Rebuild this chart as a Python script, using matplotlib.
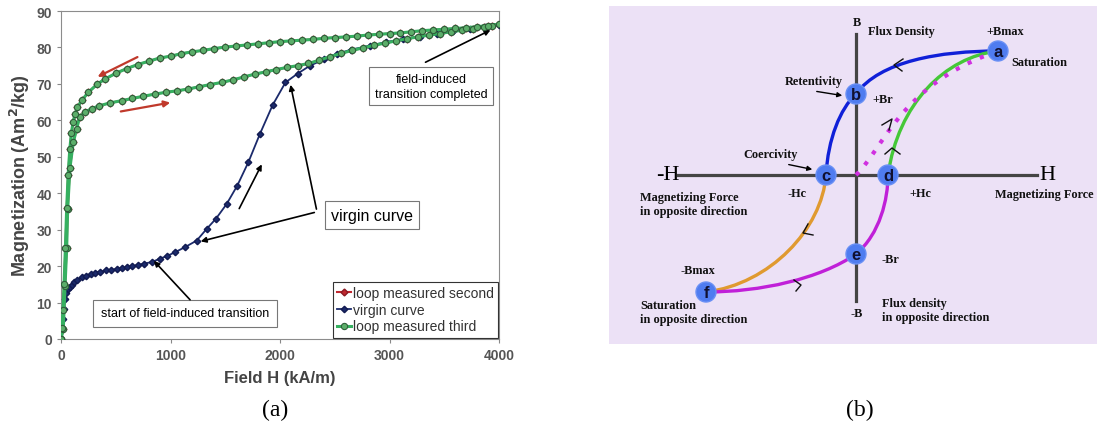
#!/usr/bin/env python3
"""
Magnetization loops (a) and hysteresis loop sketch (b).
"""

import matplotlib
matplotlib.use('Agg')
import matplotlib.pyplot as plt
from matplotlib.path import Path
from matplotlib.patches import PathPatch, Circle

# ---------------- panel (a) data: field H (kA/m) vs magnetization (Am2/kg)
virgin_h = [0, 6, 15, 25, 37, 50, 65, 80, 97, 120, 150, 189, 230, 270, 310, 360,
            410, 460, 510, 554, 600, 650, 700, 760, 828, 900, 970, 1041, 1132,
            1239, 1330, 1415, 1512, 1610, 1711, 1817, 1933, 2050, 2160, 2274,
            2400, 2518, 2650, 2822, 2970, 3126, 3280, 3431, 3580, 3735, 3870, 4000]
virgin_m = [0, 2.7, 5.5, 8.2, 11.0, 12.6, 13.7, 14.3, 14.9, 15.6, 16.2, 16.9,
            17.3, 17.8, 18.2, 18.5, 18.8, 19.0, 19.2, 19.4, 19.7, 20.0, 20.3,
            20.7, 21.1, 22.0, 22.8, 23.8, 25.2, 27.0, 30.2, 33.0, 37.0, 42.1,
            48.5, 56.3, 64.2, 70.4, 72.8, 75.0, 76.7, 78.2, 79.4, 80.5, 81.5,
            82.3, 83.0, 83.7, 84.4, 85.1, 85.6, 86.2]

# loop: ascending branch 0 -> 4000, then descending branch 4000 -> 0
loop_h = [0, 21, 37, 52, 61, 82, 112, 143, 170, 220, 280, 350, 450, 554, 650,
          750, 858, 960, 1060, 1163, 1260, 1360, 1467, 1570, 1670, 1772, 1870,
          1960, 2060, 2160, 2260, 2360, 2460, 2560, 2660, 2760, 2860, 2960,
          3060, 3160, 3260, 3360, 3460, 3560, 3660, 3760, 3860, 3940, 4000,
          3900, 3800, 3700, 3600, 3500, 3400, 3300, 3200, 3100, 3000, 2900,
          2800, 2700, 2600, 2500, 2400, 2300, 2200, 2100, 2000, 1900, 1800,
          1700, 1600, 1500, 1400, 1300, 1200, 1100, 1000, 900, 800, 700, 600,
          500, 400, 330, 250, 190, 150, 128, 110, 95, 80, 65, 52, 40, 28, 18, 8, 0]
loop_m_second = [0, 2.7, 14.6, 25.0, 35.7, 47.0, 54.0, 57.6, 61.0, 62.3, 63.2,
                 64.0, 64.8, 65.4, 66.0, 66.6, 67.2, 67.7, 68.1, 68.6, 69.2,
                 69.8, 70.4, 71.1, 71.9, 72.7, 73.3, 73.9, 74.5, 75.0, 75.6,
                 76.5, 77.5, 78.4, 79.2, 79.9, 80.6, 81.2, 81.8, 82.4, 82.9,
                 83.4, 83.8, 84.3, 84.7, 85.1, 85.6, 86.0, 86.4,
                 86.0, 85.7, 85.4, 85.2, 85.0, 84.8, 84.6, 84.3, 84.0, 83.8,
                 83.6, 83.4, 83.1, 82.9, 82.7, 82.5, 82.2, 82.0, 81.8, 81.6,
                 81.3, 81.0, 80.7, 80.4, 80.1, 79.7, 79.2, 78.8, 78.3, 77.6,
                 77.1, 76.2, 75.3, 74.2, 72.9, 71.3, 69.9, 67.7, 65.5, 63.6,
                 61.7, 59.5, 56.5, 52.0, 45.0, 36.0, 25.0, 15.0, 8.0, 3.0, 0]
loop_m_third = loop_m_second

series_labels = ['loop measured second', 'virgin curve', 'loop measured third']

# ---------------- panel (b) sketch, in image pixel coordinates
pts = {'a': (998, 52), 'b': (856, 95), 'c': (826, 176),
       'd': (888, 176), 'e': (856, 255), 'f': (706, 293)}
origin = (856, 176)
blue_ctrl = [pts['c'], (828, 140), (840, 110), pts['b'], (880, 62), (940, 52), pts['a']]
green_ctrl = [pts['d'], (898, 105), (945, 58), pts['a']]
dotted_ctrl = [origin, (883, 150), (900, 88), (990, 55)]
orange_ctrl = [pts['c'], (822, 230), (770, 285), pts['f']]
magenta_ctrl = [pts['f'], (760, 293), (820, 280), pts['e'], (880, 235), (888, 200), pts['d']]
chevrons = [
    [(903, 60), (894, 66), (902, 72)],
    [(885, 155), (892, 149), (900, 155)],
    [(882, 126), (892, 120), (889, 131)],
    [(808, 225), (803, 234), (813, 236)],
    [(794, 281), (801, 286), (796, 292)],
]

fig = plt.figure(figsize=(10.97, 4.39), dpi=100)

# ======================= panel (a)
ax = fig.add_axes([61 / 1097, 99 / 439, 438 / 1097, 328 / 439])
sans = 'Liberation Sans'

ax.plot(loop_h, loop_m_second, '-D', color='#c0282f', markersize=3.5,
        linewidth=1.5, markeredgecolor='#8a1a22', label=series_labels[0], zorder=2)
ax.plot(virgin_h, virgin_m, '-D', color='#1b2a6b', markersize=3.3,
        linewidth=1.3, markeredgecolor='#111a50', label=series_labels[1], zorder=3)
ax.plot(loop_h, loop_m_third, '-o', color='#36b060', markersize=4.5,
        linewidth=2.2, markerfacecolor='#5cae6a', markeredgecolor='#2f5e3a',
        markeredgewidth=0.8, label=series_labels[2], zorder=4)

ax.set_xlim(0, 4000)
ax.set_ylim(0, 90)
ax.set_xticks(range(0, 4001, 1000))
ax.set_yticks(range(0, 91, 10))
for lab in ax.get_xticklabels() + ax.get_yticklabels():
    lab.set_fontfamily(sans)
    lab.set_fontweight('bold')
    lab.set_color('#555555')
    lab.set_fontsize(10)
ax.tick_params(length=3, color='#888888')
for sp in ax.spines.values():
    sp.set_color('#8c8c8c')
ax.set_xlabel('Field H (kA/m)', fontfamily=sans, fontweight='bold',
              fontsize=12, color='#444444', labelpad=6)
ax.set_ylabel('Magnetization (Am$^\\mathbf{2}$/kg)', fontfamily=sans,
              fontweight='bold', fontsize=13, color='#444444', labelpad=3)

# direction arrows
red_arrow = dict(arrowstyle='-|>', color='#c0392b', lw=1.6, mutation_scale=9)
ax.annotate('', xy=(311, 71.6), xytext=(721, 77.7), arrowprops=red_arrow)
ax.annotate('', xy=(1023, 65.0), xytext=(521, 62.3), arrowprops=red_arrow)
blk_arrow = dict(arrowstyle='-|>', color='black', lw=1.2, mutation_scale=8)
ax.annotate('', xy=(1845, 48.6), xytext=(1616, 35.1), arrowprops=blk_arrow)

box = dict(boxstyle='square,pad=0.4', facecolor='white', edgecolor='#777777', lw=0.8)
ax.text(2840, 34.0, 'virgin curve', ha='center', va='center', fontsize=11.5,
        fontfamily=sans, bbox=box, zorder=6)
ax.annotate('', xy=(2091, 70.5), xytext=(2338, 34.9), arrowprops=blk_arrow)
ax.annotate('', xy=(1251, 26.6), xytext=(2338, 34.9), arrowprops=blk_arrow)

ax.text(3379, 69.4, 'field-induced\ntransition completed', ha='center', va='center',
        fontsize=9, fontfamily=sans, linespacing=1.35,
        bbox=dict(boxstyle='square,pad=0.45', facecolor='white', edgecolor='#777777', lw=0.8))
ax.annotate('', xy=(3945, 85.1), xytext=(3306, 75.6), arrowprops=blk_arrow)

ax.text(1132, 7.1, 'start of field-induced transition', ha='center', va='center',
        fontsize=9, fontfamily=sans,
        bbox=dict(boxstyle='square,pad=0.6', facecolor='white', edgecolor='#777777', lw=0.8))
ax.annotate('', xy=(831, 22.0), xytext=(1196, 10.2), arrowprops=blk_arrow)

leg = ax.legend(loc='lower right', bbox_to_anchor=(1.0, 0.0), borderaxespad=0.1,
                fancybox=False, edgecolor='#333333', framealpha=1,
                handlelength=1.0, handletextpad=0.1, labelspacing=0.2,
                borderpad=0.3, prop={'family': sans, 'size': 10})
leg.get_frame().set_linewidth(0.8)
for t in leg.get_texts():
    t.set_color('#333333')

fig.text(275 / 1097, 1 - 410 / 439, '(a)', ha='center', va='center',
         fontsize=17, fontfamily='Liberation Serif')

# ======================= panel (b)
bx = fig.add_axes([609 / 1097, 94 / 439, 488 / 1097, 338 / 439])
bx.set_xlim(609, 1097)
bx.set_ylim(345, 7)
bx.set_facecolor('#ece1f6')
for sp in bx.spines.values():
    sp.set_visible(False)
bx.set_xticks([])
bx.set_yticks([])
serif = 'Liberation Serif'

bx.plot([678, 1037], [origin[1], origin[1]], color='#444444', lw=2.3, zorder=1)
bx.plot([origin[0], origin[0]], [35, 302], color='#444444', lw=2.3, zorder=1)


def bezier(ctrl, color, **kw):
    codes = [Path.MOVETO] + [Path.CURVE4] * (len(ctrl) - 1)
    bx.add_patch(PathPatch(Path(ctrl, codes), facecolor='none',
                           edgecolor=color, zorder=2, **kw))


bezier(blue_ctrl, '#1020d8', lw=2.4)
bezier(green_ctrl, '#45c838', lw=2.4)
bezier(orange_ctrl, '#e09a30', lw=2.4)
bezier(magenta_ctrl, '#c020d8', lw=2.4)
bezier(dotted_ctrl, '#d030e0', lw=3.0, linestyle=(0, (1, 2.2)))

for ch in chevrons:
    bx.plot([p[0] for p in ch], [p[1] for p in ch], color='#111111', lw=1.0, zorder=3)

for name, (px, py) in pts.items():
    bx.add_patch(Circle((px, py), 10, facecolor='#4f7cf0', edgecolor='#6a90f5',
                        lw=1, zorder=4))
    bx.text(px, py + 0.5, name, ha='center', va='center', fontsize=12,
            fontfamily=sans, fontweight='bold', color='#101030', zorder=5)

lab = dict(fontfamily=serif, fontweight='bold', fontsize=8.8, color='#111111')
bx.text(668, 176, '-H', ha='center', va='center', fontsize=16, fontfamily=serif)
bx.text(1047, 176, 'H', ha='center', va='center', fontsize=16, fontfamily=serif)
bx.text(857, 23, 'B', ha='center', va='center', **lab)
bx.text(868, 32, 'Flux Density', ha='left', va='center', **lab)
bx.text(1005, 32, '+Bmax', ha='center', va='center', **lab)
bx.text(1011, 63, 'Saturation', ha='left', va='center', **lab)
bx.text(785, 82, 'Retentivity', ha='left', va='center', **lab)
bx.text(872, 100, '+Br', ha='left', va='center', **lab)
bx.text(743, 155, 'Coercivity', ha='left', va='center', **lab)
bx.text(797, 194, '-Hc', ha='center', va='center', **lab)
bx.text(920, 194, '+Hc', ha='center', va='center', **lab)
bx.text(995, 195, 'Magnetizing Force', ha='left', va='center', **lab)
bx.text(640, 205, 'Magnetizing Force\nin opposite direction', ha='left',
        va='center', linespacing=1.3, **lab)
bx.text(882, 260, '-Br', ha='left', va='center', **lab)
bx.text(698, 271, '-Bmax', ha='center', va='center', **lab)
bx.text(640, 313, 'Saturation\nin opposite direction', ha='left',
        va='center', linespacing=1.3, **lab)
bx.text(857, 314, '-B', ha='center', va='center', **lab)
bx.text(882, 311, 'Flux density\nin opposite direction', ha='left',
        va='center', linespacing=1.3, **lab)

arr = dict(arrowstyle='-|>', color='black', lw=1.0, mutation_scale=7)
bx.annotate('', xy=(845, 97), xytext=(814, 92), arrowprops=arr)
bx.annotate('', xy=(815, 171), xytext=(786, 165), arrowprops=arr)

fig.text(860 / 1097, 1 - 410 / 439, '(b)', ha='center', va='center',
         fontsize=17, fontfamily=serif)

fig.savefig('out.png', dpi=100)
plt.close(fig)
